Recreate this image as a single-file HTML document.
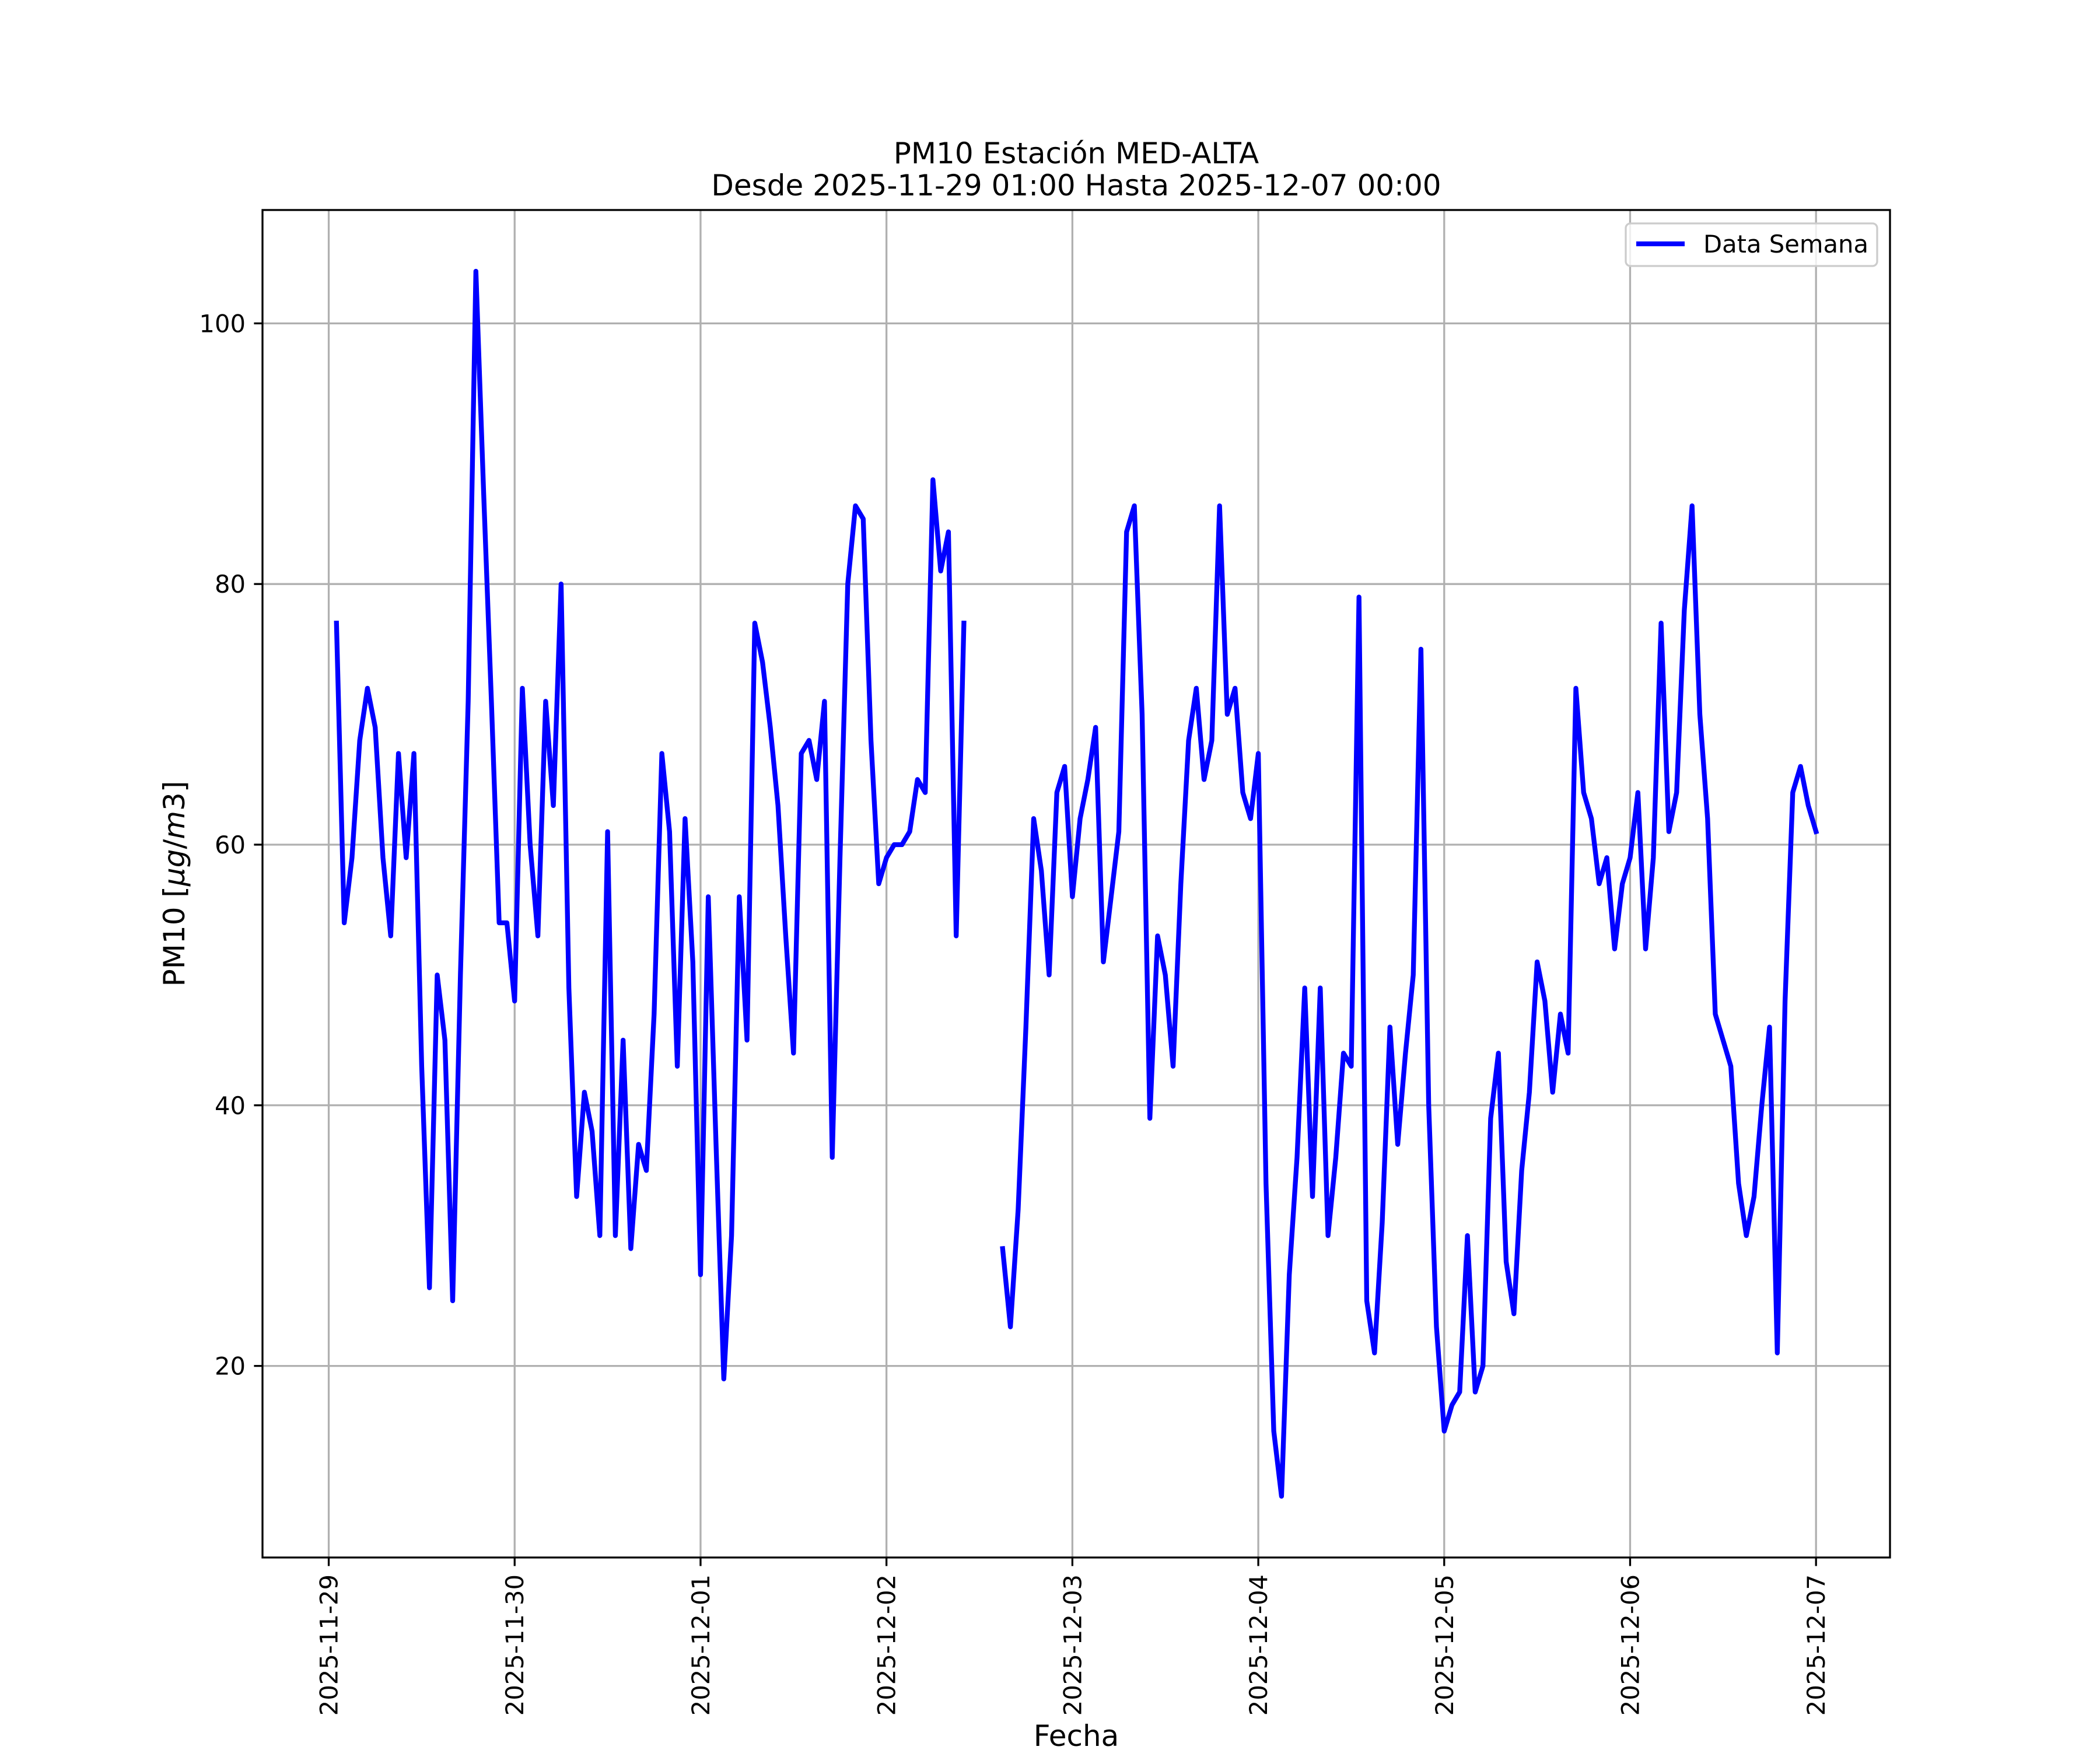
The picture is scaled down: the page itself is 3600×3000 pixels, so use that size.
<!DOCTYPE html>
<html><head><meta charset="utf-8">
<style>
html,body{margin:0;padding:0;background:#fff;}
svg{display:block;font-family:"DejaVu Sans","Liberation Sans",sans-serif;}
</style></head>
<body>
<svg id="chart" width="3600" height="3000" viewBox="0 0 3600 3000" xmlns="http://www.w3.org/2000/svg">
<rect width="3600" height="3000" fill="#fff"/>
<g id="grid"></g>
<g id="series"></g>
<rect x="450" y="360" width="2790" height="2310" fill="none" stroke="#000" stroke-width="3.3"/>
<g id="ticks"></g>
<text x="1845" y="280" font-size="50" text-anchor="middle">PM10 Estación MED-ALTA</text>
<text x="1845" y="335" font-size="50" text-anchor="middle">Desde 2025-11-29 01:00 Hasta 2025-12-07 00:00</text>
<text x="1845" y="2993" font-size="50" text-anchor="middle">Fecha</text>
<text transform="translate(316,1515) rotate(-90)" font-size="50" text-anchor="middle">PM10 [<tspan font-style="italic">μg</tspan>/<tspan font-style="italic">m</tspan>3]</text>
<g>
<rect x="2787" y="383" width="431" height="73" rx="8" fill="#fff" fill-opacity="0.8" stroke="#cccccc" stroke-width="3.3"/>
<line x1="2805" y1="418" x2="2888" y2="418" stroke="#0000ff" stroke-width="8.3"/>
<text x="2920" y="433" font-size="41.7">Data Semana</text>
</g>
</svg>
<script>
const dayLabels = ["2025-11-29","2025-11-30","2025-12-01","2025-12-02","2025-12-03","2025-12-04","2025-12-05","2025-12-06","2025-12-07"];
const yTicks = [20,40,60,80,100];
const startHour = 1;
const pm10Values = [
77,54,59,68,72,69,59,53,67,59,67,
43,26,50,45,25,50,71,104,87,71,54,54,48,
72,60,53,71,63,80,49,33,41,38,30,61,
30,45,29,37,35,47,67,61,43,62,51,27,
56,37,19,30,56,45,77,74,69,63,53,44,
67,68,65,71,36,59,80,86,85,68,57,59,
60,60,61,65,64,88,81,84,53,77,
null,null,null,null,
29,23,32,46,62,58,50,64,66,56,
62,65,69,51,56,61,84,86,70,39,
53,50,43,57,68,72,65,68,86,70,72,64,62,67,
34,15,10,27,36,49,33,49,30,36,44,43,
79,25,21,31,46,37,44,50,75,40,23,15,
17,18,30,18,20,39,44,28,24,35,41,51,
48,41,47,44,72,64,62,57,59,52,57,59,
64,52,59,77,61,64,78,86,70,62,47,45,
43,34,30,33,40,46,21,48,64,66,63,61
];

const NS = "http://www.w3.org/2000/svg";
const L=450,R=3240,T=360,B=2670;
// x domain in days since 2025-11-29 00:00, y domain from data with 5% margins
const nH = pm10Values.length;
const x0d = startHour/24, x1d = (startHour+nH-1)/24;
const xmin = x0d-(x1d-x0d)*0.05, xmax = x1d+(x1d-x0d)*0.05;
const valid = pm10Values.filter(v=>v!==null);
const vmin=Math.min(...valid), vmax=Math.max(...valid);
const ymin = vmin-(vmax-vmin)*0.05, ymax = vmax+(vmax-vmin)*0.05;
function xs(d){return L+(d-xmin)/(xmax-xmin)*(R-L);}
function ys(v){return B-(v-ymin)/(ymax-ymin)*(B-T);}

const grid=document.getElementById('grid');
const ticks=document.getElementById('ticks');
function mk(tag,attrs,parent){const e=document.createElementNS(NS,tag);for(const k in attrs)e.setAttribute(k,attrs[k]);parent.appendChild(e);return e;}

dayLabels.forEach((lab,i)=>{
  const x=xs(i);
  const g=mk('line',{x1:x,x2:x,y1:T,y2:B,stroke:'#b0b0b0','stroke-width':3.3},grid);
  
  
  const t=mk('line',{x1:x,x2:x,y1:B,y2:B+14.6,stroke:'#000','stroke-width':3.3},ticks);
  
  
  const tx=mk('text',{transform:`translate(${x+15},${B+29}) rotate(-90)`,'font-size':41.7,'text-anchor':'end'},ticks);
  tx.textContent=lab;
  
  
});
yTicks.forEach(v=>{
  const y=ys(v);
  const g=mk('line',{x1:L,x2:R,y1:y,y2:y,stroke:'#b0b0b0','stroke-width':3.3},grid);
  
  
  const t=mk('line',{x1:L-14.6,x2:L,y1:y,y2:y,stroke:'#000','stroke-width':3.3},ticks);
  
  
  const tx=mk('text',{x:L-29,y:y+15,'font-size':41.7,'text-anchor':'end'},ticks);
  tx.textContent=String(v);
  
  
});

// line segments broken at nulls
const series=document.getElementById('series');
let d='',pen=false;
pm10Values.forEach((v,i)=>{
  if(v===null){pen=false;return;}
  const x=xs((startHour+i)/24), y=ys(v);
  d+=(pen?'L':'M')+x.toFixed(1)+' '+y.toFixed(1)+' ';
  pen=true;
});
const p=mk('path',{d:d,fill:'none',stroke:'#0000ff','stroke-width':8.3,'stroke-linejoin':'round','stroke-linecap':'square'},series);


</script>
</body></html>
